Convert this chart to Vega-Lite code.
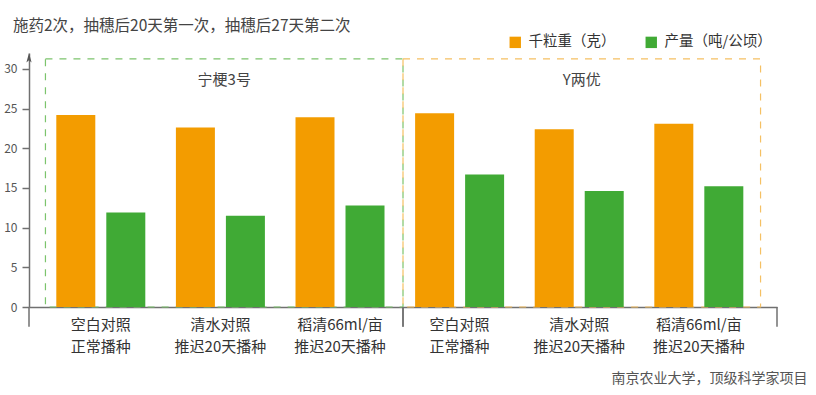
{
  "$schema": "https://vega.github.io/schema/vega-lite/v6.json",
  "width": 748,
  "height": 254,
  "autosize": {"type": "none"},
  "padding": {"left": 29, "top": 53, "right": 39, "bottom": 88},
  "config": {
    "view": {"stroke": null},
    "font": "Noto Sans CJK SC",
    "text": {"font": "Noto Sans CJK SC"}
  },
  "title": {
    "text": "施药2次，抽穗后20天第一次，抽穗后27天第二次",
    "anchor": "start",
    "frame": "group",
    "fontSize": 15.5,
    "fontWeight": "normal",
    "color": "#444",
    "dx": -16,
    "offset": 1
  },
  "datasets": {
    "bars": [
      {"cat": "宁梗3号|空白对照|正常播种", "series": "千粒重（克）", "value": 24.2},
      {"cat": "宁梗3号|空白对照|正常播种", "series": "产量（吨/公顷）", "value": 11.9},
      {"cat": "宁梗3号|清水对照|推迟20天播种", "series": "千粒重（克）", "value": 22.6},
      {"cat": "宁梗3号|清水对照|推迟20天播种", "series": "产量（吨/公顷）", "value": 11.5},
      {"cat": "宁梗3号|稻清66ml/亩|推迟20天播种", "series": "千粒重（克）", "value": 23.9},
      {"cat": "宁梗3号|稻清66ml/亩|推迟20天播种", "series": "产量（吨/公顷）", "value": 12.8},
      {"cat": "Y两优|空白对照|正常播种", "series": "千粒重（克）", "value": 24.4},
      {"cat": "Y两优|空白对照|正常播种", "series": "产量（吨/公顷）", "value": 16.7},
      {"cat": "Y两优|清水对照|推迟20天播种", "series": "千粒重（克）", "value": 22.4},
      {"cat": "Y两优|清水对照|推迟20天播种", "series": "产量（吨/公顷）", "value": 14.6},
      {"cat": "Y两优|稻清66ml/亩|推迟20天播种", "series": "千粒重（克）", "value": 23.1},
      {"cat": "Y两优|稻清66ml/亩|推迟20天播种", "series": "产量（吨/公顷）", "value": 15.2}
    ],
    "groups": [
      {"group": "宁梗3号"},
      {"group": "Y两优"}
    ]
  },
  "layer": [
    {
      "data": {"name": "groups"},
      "layer": [
        {
          "mark": {"type": "rect", "filled": false, "strokeDash": [7, 7], "strokeWidth": 1.2},
          "encoding": {
            "x": {"field": "group", "type": "nominal", "sort": null, "scale": {"type": "band", "paddingInner": 0, "paddingOuter": 0.046}, "axis": null},
            "y": {"datum": 31.25, "type": "quantitative", "scale": {"domain": [0, 32], "nice": false}, "axis": null},
            "y2": {"datum": 0},
            "stroke": {"field": "group", "type": "nominal", "scale": {"domain": ["宁梗3号", "Y两优"], "range": ["#7cc46c", "#f5c063"]}, "legend": null}
          }
        },
        {
          "mark": {"type": "text", "fontSize": 15, "color": "#444", "align": "center", "baseline": "middle"},
          "encoding": {
            "x": {"field": "group", "type": "nominal", "sort": null, "scale": {"type": "band", "paddingInner": 0, "paddingOuter": 0.046}, "axis": null},
            "y": {"datum": 28.6, "type": "quantitative", "scale": {"domain": [0, 32], "nice": false}, "axis": null},
            "text": {"field": "group"}
          }
        }
      ],
      "resolve": {"scale": {"y": "shared"}}
    },
    {
      "data": {"name": "groups"},
      "layer": [
        {
          "mark": {"type": "rule", "color": "#707070", "strokeWidth": 1.5},
          "encoding": {
            "x": {"field": "group", "type": "nominal", "sort": null, "bandPosition": 0, "scale": {"type": "band", "paddingInner": 0, "paddingOuter": 0}, "axis": null},
            "y": {"datum": 0, "type": "quantitative", "scale": {"domain": [0, 32], "nice": false}, "axis": null},
            "y2": {"datum": -2.5}
          }
        },
        {
          "mark": {"type": "rule", "color": "#707070", "strokeWidth": 1.5},
          "encoding": {
            "x": {"field": "group", "type": "nominal", "sort": null, "bandPosition": 1, "scale": {"type": "band", "paddingInner": 0, "paddingOuter": 0}, "axis": null},
            "y": {"datum": 0, "type": "quantitative", "scale": {"domain": [0, 32], "nice": false}, "axis": null},
            "y2": {"datum": -2.5}
          }
        },
        {
          "transform": [{"filter": "datum.group == '宁梗3号'"}],
          "mark": {"type": "point", "shape": "M0,-1L-0.55,1L0,0.55L0.55,1Z", "filled": true, "color": "#555", "opacity": 1, "size": 90},
          "encoding": {
            "x": {"field": "group", "type": "nominal", "sort": null, "bandPosition": 0, "scale": {"type": "band", "paddingInner": 0, "paddingOuter": 0}, "axis": null},
            "y": {"datum": 31.4, "type": "quantitative", "scale": {"domain": [0, 32], "nice": false}, "axis": null}
          }
        }
      ]
    },
    {
      "data": {"name": "bars"},
      "mark": {"type": "bar"},
      "encoding": {
        "x": {
          "field": "cat",
          "type": "nominal",
          "sort": null,
          "scale": {"type": "band", "paddingInner": 0, "paddingOuter": 0.127, "align": 0.395},
          "axis": {
            "title": "南京农业大学，顶级科学家项目",
            "labelAngle": 0,
            "labelExpr": "slice(split(datum.value, '|'), 1)",
            "ticks": false,
            "domainColor": "#707070",
            "domainWidth": 1.5,
            "labelFontSize": 15,
            "labelColor": "#333",
            "labelLineHeight": 22,
            "labelPadding": 10,
            "labelLimit": 0,
            "labelOverlap": false,
            "titleX": 778,
            "titleY": 71,
            "titleAlign": "right",
            "titleBaseline": "middle",
            "titleFontSize": 14,
            "titleFontWeight": "normal",
            "titleColor": "#555"
          }
        },
        "xOffset": {
          "field": "series",
          "type": "nominal",
          "sort": ["千粒重（克）", "产量（吨/公顷）"],
          "scale": {"paddingInner": 0.22, "paddingOuter": 0.306}
        },
        "y": {
          "field": "value",
          "type": "quantitative",
          "scale": {"domain": [0, 32], "nice": false},
          "axis": {
            "values": [0, 5, 10, 15, 20, 25, 30],
            "title": null,
            "grid": false,
            "tickSize": 7,
            "labelPadding": 5,
            "labelFontSize": 12,
            "labelColor": "#555",
            "domainColor": "#707070",
            "domainWidth": 1.5,
            "tickColor": "#707070",
            "tickWidth": 1.5
          }
        },
        "color": {
          "field": "series",
          "type": "nominal",
          "sort": ["千粒重（克）", "产量（吨/公顷）"],
          "scale": {"domain": ["千粒重（克）", "产量（吨/公顷）"], "range": ["#F39C00", "#40AA35"]},
          "legend": {
            "title": null,
            "orient": "none",
            "legendX": 479,
            "legendY": -18,
            "direction": "horizontal",
            "symbolType": "square",
            "symbolSize": 130,
            "symbolStrokeWidth": 0,
            "labelFontSize": 14.5,
            "labelColor": "#333",
            "columnPadding": 28,
            "padding": 0,
            "labelOffset": 6,
            "labelLimit": 0
          }
        }
      }
    }
  ],
  "resolve": {"scale": {"x": "independent", "y": "independent"}, "axis": {"x": "independent", "y": "independent"}}
}
